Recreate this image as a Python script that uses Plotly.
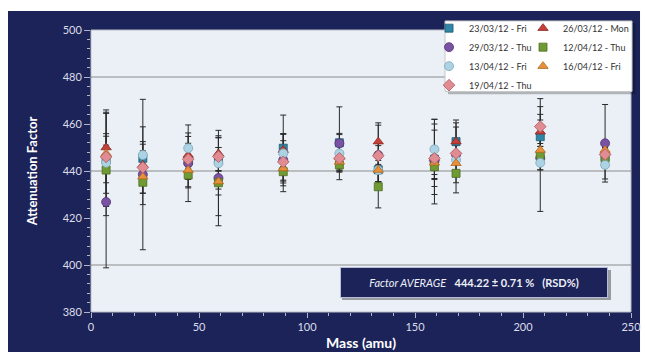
import plotly.graph_objects as go

# ---------------- data ----------------
mass = [7, 24, 45, 59, 89, 115, 133, 159, 169, 208, 238]
series_labels = ["23/03/12 - Fri", "26/03/12 - Mon", "29/03/12 - Thu",
                 "12/04/12 - Thu", "13/04/12 - Fri", "16/04/12 - Fri",
                 "19/04/12 - Thu"]

f_23_03 = [445.0, 445.4, 444.5, 445.0, 449.7, 452.0, 440.5, 445.0, 452.5, 454.6, 446.0]
e_23_03 = [5, 6, 11.7, 5, 6, 4, 5, 15, 9.2, 9.5, 4]
f_26_03 = [450.0, 442.6, 446.8, 447.5, 448.9, 446.0, 452.5, 445.5, 452.5, 456.7, 448.0]
e_26_03 = [15, 6, 5, 7.5, 7, 5, 8, 5, 8, 5, 4]
f_29_03 = [426.8, 438.5, 443.3, 437.0, 444.7, 451.8, 446.8, 444.0, 447.0, 445.5, 451.8]
e_29_03 = [28, 32, 16.3, 20.3, 11, 15.5, 4, 18, 4, 5, 16.5]
f_12_04 = [440.4, 435.2, 438.3, 435.0, 439.7, 442.6, 433.3, 441.8, 439.0, 446.8, 445.4]
e_12_04 = [15.5, 9.5, 5, 5.2, 4, 2.5, 9, 5, 4, 24, 4]
f_13_04 = [443.5, 446.8, 449.7, 443.3, 447.5, 447.5, 440.4, 449.2, 444.7, 443.5, 442.6]
e_13_04 = [22.5, 12, 5, 11, 16.3, 8, 5, 12.8, 14, 3, 6]
f_16_04 = [447.5, 437.6, 440.4, 435.5, 441.1, 443.9, 440.4, 443.5, 443.3, 448.9, 448.9]
e_16_04 = [17, 7, 4, 14.5, 5, 4, 5, 5, 4, 5, 4]
f_19_04 = [446.0, 441.5, 445.0, 446.1, 443.9, 445.4, 446.5, 445.4, 447.5, 458.9, 447.0]
e_19_04 = [5, 11, 4, 8, 9, 5, 13, 12, 4, 8.5, 4]

y_ticks = [380, 400, 420, 440, 460, 480, 500]
x_ticks = [0, 50, 100, 150, 200, 250]
grid_values = [400, 440, 480]
avg_text = "<i>Factor AVERAGE</i>\u00a0\u00a0\u00a0<b>444.22 ± 0.71 %\u00a0\u00a0 (RSD%)</b>"

values = [f_23_03, f_26_03, f_29_03, f_12_04, f_13_04, f_16_04, f_19_04]
errors = [e_23_03, e_26_03, e_29_03, e_12_04, e_13_04, e_16_04, e_19_04]

# ---------------- style ----------------
colors = ['#2f86a6', '#c5403a', '#7a52a3', '#6f9a34', '#acd3e4', '#e8913a', '#e08c92']
edges = ['#1d5a70', '#8a2520', '#4f3275', '#4b6d1f', '#7ea6b8', '#b0661e', '#a85c62']
symbols = ['square', 'triangle-up', 'circle', 'square', 'circle', 'triangle-up', 'diamond']
sizes = [8, 9, 9, 8, 9, 9, 9]
legend_of = ['legend', 'legend2', 'legend', 'legend2', 'legend', 'legend2', 'legend']

NAVY = '#1c2358'
FONT = 'Lato'

fig = go.Figure()

# error bars first (behind all markers)
for vals, errs in zip(values, errors):
    fig.add_trace(go.Scatter(
        x=mass, y=vals, mode='markers',
        marker=dict(size=2, opacity=0),
        error_y=dict(type='data', array=errs, visible=True,
                     color='#2a2a2a', thickness=1, width=3),
        showlegend=False, hoverinfo='skip'))

for vals, lab, c, ec, s, sz, lg in zip(values, series_labels, colors, edges,
                                        symbols, sizes, legend_of):
    fig.add_trace(go.Scatter(
        x=mass, y=vals, mode='markers', name=lab, legend=lg,
        marker=dict(color=c, symbol=s, size=sz, line=dict(color=ec, width=0.8))))

shapes = [
    # navy frame
    dict(type='rect', xref='paper', yref='paper', x0=-0.1537, x1=1.0167,
         y0=-0.1418, y1=1.0674, fillcolor=NAVY, line=dict(width=0), layer='below'),
    # plot area
    dict(type='rect', xref='paper', yref='paper', x0=0, x1=1, y0=0, y1=1,
         fillcolor='#eaf0f6', line=dict(color='#b8bcc8', width=1), layer='below'),
]
for g in grid_values:
    shapes.append(dict(type='line', xref='paper', yref='y', x0=0, x1=1, y0=g, y1=g,
                       line=dict(color='#8c8c8c', width=1.2), layer='below'))
# legend box shadow + box
shapes.append(dict(type='rect', xref='paper', yref='paper', x0=0.661, x1=1.008,
                   y0=0.772, y1=1.025, fillcolor='rgba(0,0,0,0.25)',
                   line=dict(width=0), layer='above'))
shapes.append(dict(type='rect', xref='paper', yref='paper', x0=0.6556, x1=1.0019,
                   y0=0.782, y1=1.032, fillcolor='#ffffff',
                   line=dict(color='#c8c8c8', width=1), layer='above'))
# annotation box shadow
shapes.append(dict(type='rect', xref='paper', yref='paper', x0=0.4648, x1=0.963,
                   y0=0.0426, y1=0.149, fillcolor='rgba(0,0,0,0.35)',
                   line=dict(width=0), layer='above'))

fig.update_layout(
    width=645, height=360,
    margin=dict(l=91, r=14, t=30, b=48, autoexpand=False),
    paper_bgcolor='white', plot_bgcolor='rgba(0,0,0,0)',
    font=dict(family=FONT, color='#d8dae6'),
    shapes=shapes,
    legend=dict(x=0.626, y=1.058, xanchor='left', yanchor='top',
                bgcolor='rgba(0,0,0,0)', borderwidth=0,
                font=dict(size=9, color='#333333', family=FONT)),
    legend2=dict(x=0.80, y=1.058, xanchor='left', yanchor='top',
                 bgcolor='rgba(0,0,0,0)', borderwidth=0,
                 font=dict(size=9, color='#333333', family=FONT)),
    annotations=[dict(
        text=avg_text, xref='paper', yref='paper', x=0.709, y=0.1046,
        xanchor='center', yanchor='middle', showarrow=False,
        width=264, height=27, bgcolor=NAVY, bordercolor='#b8bcd4', borderwidth=1,
        font=dict(size=11, color='#eef0f8', family=FONT))],
)

fig.update_xaxes(
    range=[0, 250], tickvals=x_ticks, showgrid=False, zeroline=False,
    ticks='outside', ticklen=5, tickcolor='#b0b4c8', automargin=False,
    minor=dict(dtick=10, ticks='outside', ticklen=3, tickcolor='#b0b4c8'),
    tickfont=dict(size=11, color='#dcdeea'),
    title=dict(text='<b>Mass (amu)</b>', font=dict(size=14, color='white'), standoff=5),
    showline=False)
fig.update_yaxes(
    range=[380, 500], tickvals=y_ticks, showgrid=False, zeroline=False,
    ticks='outside', ticklen=6, tickcolor='#b0b4c8', automargin=False,
    minor=dict(dtick=4, ticks='outside', ticklen=3, tickcolor='#b0b4c8'),
    tickfont=dict(size=11, color='#dcdeea'),
    title=dict(text='<b>Attenuation Factor</b>', font=dict(size=13, color='white'), standoff=22),
    showline=False)

fig.write_html("out.html", config={"displayModeBar": False},
               post_script="document.body.style.margin='0';document.body.style.overflow='hidden';")
